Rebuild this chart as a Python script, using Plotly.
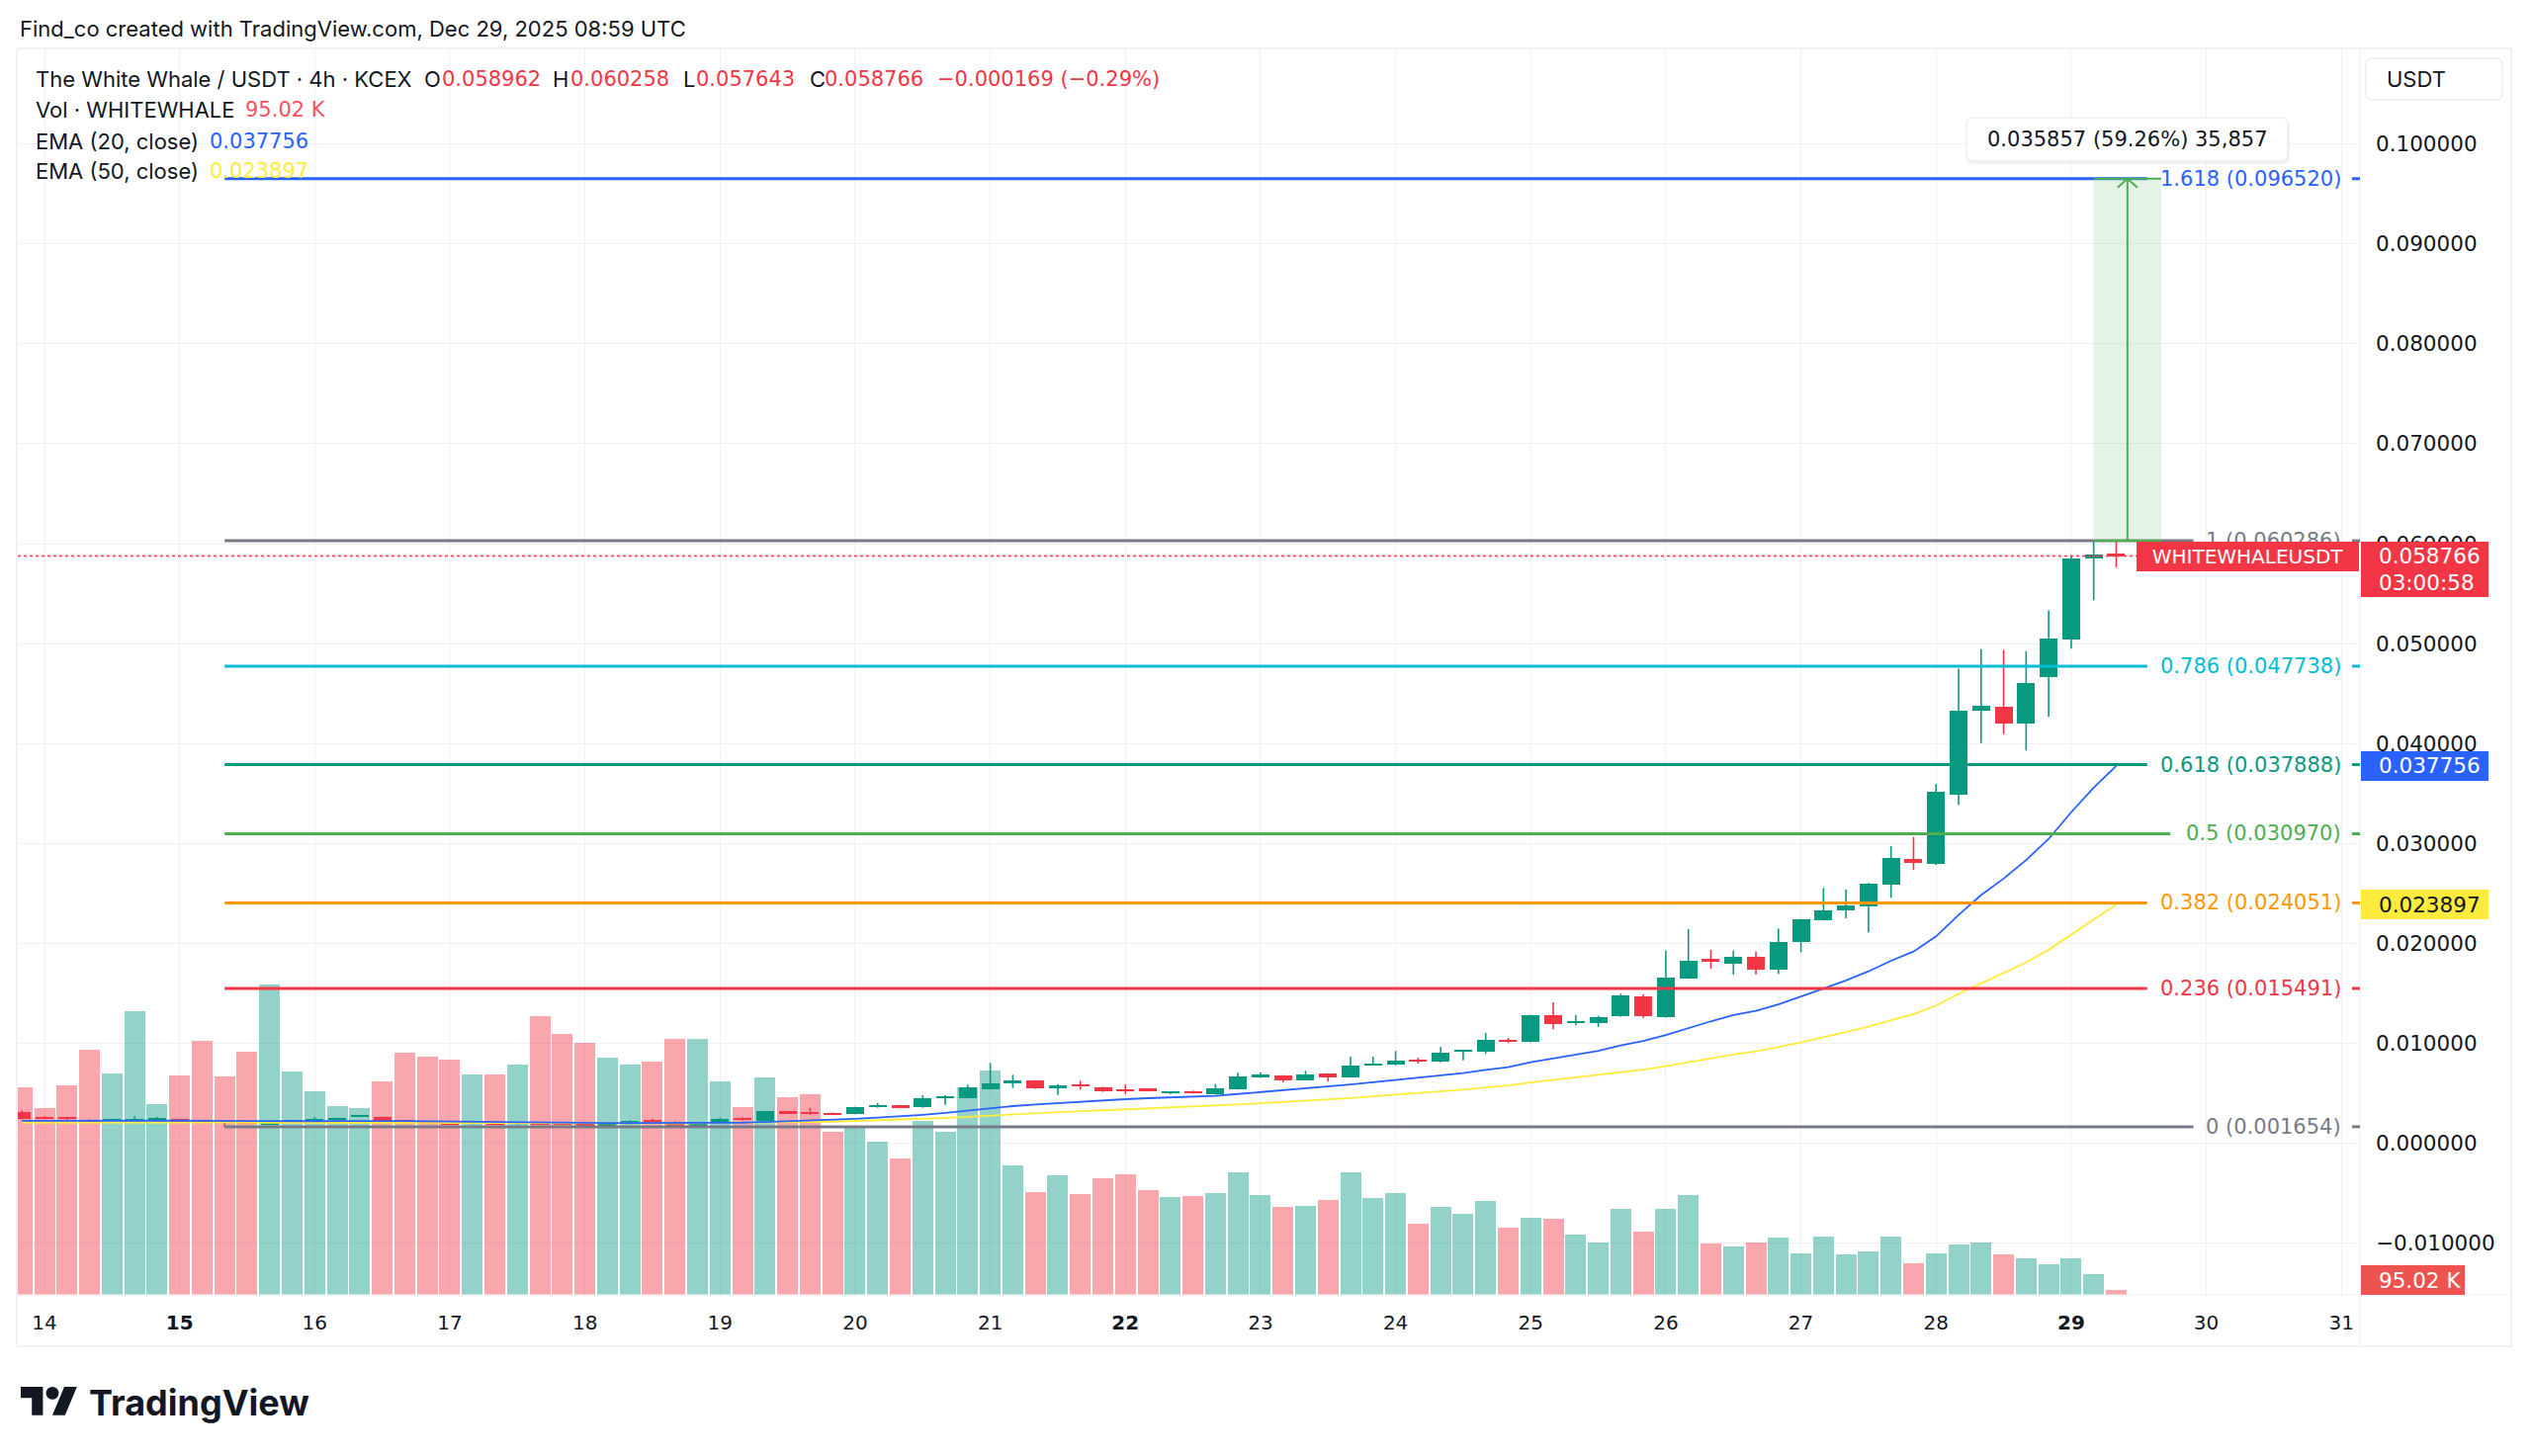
import plotly.graph_objects as go
import pandas as pd

# ------------------------------------------------------------------ DATA
bar_times = pd.date_range("2025-12-13 20:00", periods=94, freq="4h")

opens = [0.00310, 0.00262, 0.00262, 0.00238, 0.00224, 0.00226, 0.00236, 0.00243, 0.00230, 0.00220,
         0.00211, 0.00181, 0.00211, 0.00220, 0.00230, 0.00266, 0.00263, 0.00230, 0.00220, 0.00204,
         0.00191, 0.00207, 0.00191, 0.00204, 0.00197, 0.00191, 0.00181, 0.00191, 0.00233, 0.00217,
         0.00177, 0.00204, 0.00256, 0.00224, 0.00322, 0.00310, 0.00306, 0.00293, 0.00359, 0.00382,
         0.00359, 0.00458, 0.00454, 0.00540, 0.00596, 0.00629, 0.00550, 0.00590, 0.00563, 0.00543,
         0.00538, 0.00500, 0.00520, 0.00490, 0.00540, 0.00656, 0.00679, 0.00632, 0.00698, 0.00659,
         0.00784, 0.00784, 0.00833, 0.00813, 0.00923, 0.00913, 0.01038, 0.01012, 0.01279, 0.01203,
         0.01203, 0.01269, 0.01470, 0.01259, 0.01648, 0.01846, 0.01799, 0.01866, 0.01737, 0.02009,
         0.02234, 0.02333, 0.02373, 0.02588, 0.02848, 0.02795, 0.03485, 0.04325, 0.04364, 0.04200,
         0.04667, 0.05045, 0.05850, 0.058962]
highs = [0.00329, 0.00272, 0.00264, 0.00240, 0.00245, 0.00270, 0.00263, 0.00246, 0.00232, 0.00222,
         0.00213, 0.00224, 0.00233, 0.00263, 0.00256, 0.00274, 0.00266, 0.00233, 0.00223, 0.00206,
         0.00214, 0.00210, 0.00214, 0.00206, 0.00200, 0.00193, 0.00200, 0.00230, 0.00243, 0.00220,
         0.00214, 0.00256, 0.00258, 0.00325, 0.00325, 0.00355, 0.00308, 0.00365, 0.00402, 0.00385,
         0.00481, 0.00481, 0.00587, 0.00804, 0.00685, 0.00632, 0.00593, 0.00626, 0.00566, 0.00589,
         0.00550, 0.00523, 0.00527, 0.00593, 0.00705, 0.00708, 0.00682, 0.00725, 0.00701, 0.00866,
         0.00866, 0.00923, 0.00856, 0.00962, 0.00936, 0.01104, 0.01054, 0.01285, 0.01410, 0.01282,
         0.01276, 0.01497, 0.01490, 0.01928, 0.02142, 0.01935, 0.01928, 0.01918, 0.02148, 0.02245,
         0.02554, 0.02538, 0.02604, 0.02973, 0.03065, 0.03594, 0.04748, 0.04945, 0.04935, 0.04925,
         0.05331, 0.05883, 0.060286, 0.060258]
lows = [0.00243, 0.00245, 0.00231, 0.00215, 0.00215, 0.00220, 0.00233, 0.00215, 0.00214, 0.001654,
        0.00195, 0.00178, 0.00208, 0.00217, 0.00228, 0.00263, 0.00214, 0.00210, 0.00194, 0.00181,
        0.00188, 0.00184, 0.00188, 0.00184, 0.00180, 0.00170, 0.00178, 0.00188, 0.00210, 0.00174,
        0.00174, 0.00201, 0.00226, 0.00222, 0.00293, 0.00285, 0.00285, 0.00290, 0.00356, 0.00352,
        0.00356, 0.00385, 0.00450, 0.00537, 0.00553, 0.00544, 0.00484, 0.00537, 0.00514, 0.00490,
        0.00525, 0.00490, 0.00497, 0.00487, 0.00537, 0.00653, 0.00609, 0.00629, 0.00616, 0.00656,
        0.00781, 0.00781, 0.00797, 0.00810, 0.00830, 0.00896, 0.01002, 0.01009, 0.01140, 0.01180,
        0.01164, 0.01266, 0.01253, 0.01256, 0.01645, 0.01747, 0.01688, 0.01691, 0.01694, 0.01912,
        0.02230, 0.02251, 0.02110, 0.02456, 0.02736, 0.02785, 0.03385, 0.04004, 0.04094, 0.03930,
        0.04269, 0.04949, 0.05434, 0.057643]
closes = [0.00248, 0.00248, 0.00250, 0.00218, 0.00243, 0.00243, 0.00253, 0.00218, 0.00218, 0.00204,
          0.00197, 0.00222, 0.00230, 0.00240, 0.00253, 0.00270, 0.00217, 0.00214, 0.00197, 0.00184,
          0.00211, 0.00187, 0.00211, 0.00187, 0.00184, 0.00174, 0.00197, 0.00227, 0.00214, 0.00177,
          0.00211, 0.00246, 0.00236, 0.00322, 0.00296, 0.00290, 0.00290, 0.00362, 0.00385, 0.00355,
          0.00454, 0.00471, 0.00557, 0.00602, 0.00629, 0.00547, 0.00577, 0.00573, 0.00520, 0.00527,
          0.00530, 0.00520, 0.00500, 0.00547, 0.00666, 0.00685, 0.00632, 0.00692, 0.00659, 0.00774,
          0.00797, 0.00823, 0.00817, 0.00910, 0.00933, 0.01038, 0.01011, 0.01279, 0.01197, 0.01223,
          0.01259, 0.01483, 0.01269, 0.01655, 0.01829, 0.01813, 0.01866, 0.01740, 0.02017, 0.02240,
          0.02333, 0.02380, 0.02594, 0.02852, 0.02802, 0.03518, 0.04327, 0.04374, 0.04200, 0.04608,
          0.05046, 0.05856, 0.058935, 0.058766]
volumes_k = [3990, 3591, 4028, 4712, 4256, 5453, 3667, 4218, 4883, 4199,
             4674, 5966, 4294, 3914, 3629, 3591, 4104, 4655, 4579, 4522,
             4237, 4237, 4427, 5358, 5016, 4845, 4560, 4427, 4484, 4921,
             4921, 4104, 3610, 4180, 3800, 3857, 3135, 3211, 2945, 2622,
             3344, 3135, 3990, 4313, 2489, 1976, 2299, 1938, 2242, 2318,
             2014, 1881, 1900, 1957, 2356, 1919, 1691, 1710, 1824, 2356,
             1862, 1957, 1368, 1691, 1558, 1805, 1292, 1482, 1463, 1159,
             1007, 1653, 1216, 1653, 1919, 988, 931, 1007, 1102, 798,
             1121, 779, 836, 1121, 608, 798, 969, 1007, 779, 703,
             589, 703, 399, 95.02]
ema20 = [0.00225, 0.00226, 0.00226, 0.00225, 0.00225, 0.00226, 0.00227, 0.00226, 0.00225, 0.00223,
         0.00221, 0.00220, 0.00220, 0.00221, 0.00222, 0.00224, 0.00223, 0.00222, 0.00220, 0.00217,
         0.00215, 0.00213, 0.00212, 0.00210, 0.00208, 0.00205, 0.00203, 0.00203, 0.00203, 0.00202,
         0.00201, 0.00203, 0.00206, 0.00213, 0.00220, 0.00226, 0.00233, 0.00244, 0.00256, 0.00267,
         0.00285, 0.00303, 0.00326, 0.00350, 0.00372, 0.00388, 0.00403, 0.00418, 0.00430, 0.00441,
         0.00451, 0.00459, 0.00466, 0.00475, 0.00493, 0.00511, 0.00535, 0.00552, 0.00567, 0.00589,
         0.00610, 0.00632, 0.00651, 0.00677, 0.00701, 0.00734, 0.00762, 0.00812, 0.00850, 0.00888,
         0.00925, 0.00980, 0.01024, 0.01083, 0.01154, 0.01220, 0.01283, 0.01325, 0.01390, 0.01466,
         0.01548, 0.01630, 0.01720, 0.01826, 0.01918, 0.02070, 0.02285, 0.02484, 0.02648, 0.02834,
         0.03045, 0.03312, 0.03559, 0.037756]
ema50 = [0.00205, 0.00206, 0.00206, 0.00206, 0.00206, 0.00207, 0.00207, 0.00207, 0.00207, 0.00207,
         0.00206, 0.00206, 0.00206, 0.00206, 0.00207, 0.00207, 0.00207, 0.00207, 0.00206, 0.00205,
         0.00205, 0.00204, 0.00204, 0.00203, 0.00202, 0.00201, 0.00200, 0.00200, 0.00200, 0.00199,
         0.00200, 0.00201, 0.00202, 0.00205, 0.00209, 0.00212, 0.00216, 0.00222, 0.00229, 0.00235,
         0.00244, 0.00253, 0.00265, 0.00277, 0.00290, 0.00301, 0.00311, 0.00321, 0.00330, 0.00339,
         0.00348, 0.00357, 0.00365, 0.00374, 0.00387, 0.00400, 0.00412, 0.00425, 0.00437, 0.00453,
         0.00469, 0.00485, 0.00501, 0.00519, 0.00537, 0.00558, 0.00578, 0.00607, 0.00632, 0.00656,
         0.00680, 0.00710, 0.00737, 0.00771, 0.00810, 0.00849, 0.00887, 0.00919, 0.00960, 0.01008,
         0.01060, 0.01110, 0.01166, 0.01231, 0.01290, 0.01378, 0.01494, 0.01600, 0.01703, 0.01808,
         0.01936, 0.02090, 0.02239, 0.023897]

fib_ratios = ["0", "0.236", "0.382", "0.5", "0.618", "0.786", "1", "1.618"]
fib_prices = [0.001654, 0.015491, 0.024051, 0.030970, 0.037888, 0.047738, 0.060286, 0.096520]
fib_colors = ["#787b86", "#f23645", "#ff9800", "#4caf50", "#089981", "#00bcd4", "#787b86", "#2962ff"]
fib_start = pd.Timestamp("2025-12-15 08:00")

day_ticks = pd.date_range("2025-12-14", "2025-12-31", freq="D")
bold_days = [15, 22, 29]

measure_x0 = pd.Timestamp("2025-12-29 04:00")
measure_x1 = pd.Timestamp("2025-12-29 16:00")
measure_from, measure_to = 0.060286, 0.096520
measure_text = "0.035857 (59.26%) 35,857"

symbol = "WHITEWHALEUSDT"
countdown = "03:00:58"
title_text = "The White Whale / USDT · 4h · KCEX"
header_text = "Find_co created with TradingView.com, Dec 29, 2025 08:59 UTC"
vol_text = "95.02 K"

# ------------------------------------------------------------------ GEOMETRY / STYLE
W, H = 2560, 1473
PL, PR, PT, PB = 18, 2387, 50, 1310
PW, PH = PR - PL, PB - PT
ZERO_PX, PX_PER_PRICE = 1156.6, 10110.0
DAY0, DAY0_PX, PX_PER_DAY = pd.Timestamp("2025-12-14"), 45.0, 136.66
VOL_K_PER_PX = 19.0

UP, DOWN = "#089981", "#f23645"
BLUE, YELLOW, TXT = "#2962ff", "#ffeb3b", "#131722"
GRID, BORDER = "#f0f1f3", "#e0e3eb"
FONT = "Inter"
NUMFONT = "DejaVu Sans"
TS = 22    # text size
NS = 21    # number size (labels)
AS = 21.5  # price-scale number size


def px2time(px):
    return DAY0 + pd.Timedelta(days=(px - DAY0_PX) / PX_PER_DAY)


def px2price(py):
    return (ZERO_PX - py) / PX_PER_PRICE


def fx(px):
    return (px - PL) / PW


def fy(py):
    return (PB - py) / PH


def ms(px):
    return px / PX_PER_DAY * 86400000.0


fig = go.Figure()

# volume (primary y, hidden)
vol_colors = ["rgba(8,153,129,0.44)" if c >= o else "rgba(242,54,69,0.44)" for o, c in zip(opens, closes)]
fig.add_trace(go.Bar(x=bar_times, y=volumes_k, width=ms(21), marker=dict(color=vol_colors, line=dict(width=0)),
                     yaxis="y", hoverinfo="skip"))

# candles: wicks
for up, col in ((True, UP), (False, DOWN)):
    wx, wy = [], []
    for t, o, h, l, c in zip(bar_times, opens, highs, lows, closes):
        if (c >= o) == up:
            wx += [t, t, None]
            wy += [l, h, None]
    fig.add_trace(go.Scatter(x=wx, y=wy, mode="lines", line=dict(color=col, width=1.6), yaxis="y2",
                             hoverinfo="skip"))

# candles: bodies
min_body = 1.6 / PX_PER_PRICE
body_base = [min(o, c) for o, c in zip(opens, closes)]
body_h = [max(abs(c - o), min_body) for o, c in zip(opens, closes)]
body_col = [UP if c >= o else DOWN for o, c in zip(opens, closes)]
fig.add_trace(go.Bar(x=bar_times, y=body_h, base=body_base, width=ms(18),
                     marker=dict(color=body_col, line=dict(width=0)), yaxis="y2", hoverinfo="skip"))

# EMAs
fig.add_trace(go.Scatter(x=bar_times, y=ema50, mode="lines", line=dict(color=YELLOW, width=1.8), yaxis="y2",
                         hoverinfo="skip"))
fig.add_trace(go.Scatter(x=bar_times, y=ema20, mode="lines", line=dict(color=BLUE, width=1.8), yaxis="y2",
                         hoverinfo="skip"))

shapes = []
ann = []


def pline(x0, y0, x1, y1, color, width=1, dash=None):
    d = dict(type="line", xref="paper", yref="paper", x0=fx(x0), y0=fy(y0), x1=fx(x1), y1=fy(y1),
             line=dict(color=color, width=width), layer="above")
    if dash:
        d["line"]["dash"] = dash
    return d


def prect(x0, y0, x1, y1, fill, line=None):
    return dict(type="rect", xref="paper", yref="paper", x0=fx(x0), y0=fy(y0), x1=fx(x1), y1=fy(y1),
                fillcolor=fill, line=dict(color=line or fill, width=1 if line else 0), layer="above")


def rrect(x0, y0, x1, y1, r, fill, line):
    pts = [("M", x0 + r, y0), ("L", x1 - r, y0), ("Q", x1, y0, x1, y0 + r), ("L", x1, y1 - r),
           ("Q", x1, y1, x1 - r, y1), ("L", x0 + r, y1), ("Q", x0, y1, x0, y1 - r), ("L", x0, y0 + r),
           ("Q", x0, y0, x0 + r, y0)]
    s = ""
    for p in pts:
        if p[0] == "Q":
            s += "Q%.6f,%.6f %.6f,%.6f " % (fx(p[1]), fy(p[2]), fx(p[3]), fy(p[4]))
        else:
            s += "%s%.6f,%.6f " % (p[0], fx(p[1]), fy(p[2]))
    s += "Z"
    return dict(type="path", xref="paper", yref="paper", path=s, fillcolor=fill,
                line=dict(color=line, width=1 if line else 0), layer="above")


def txt(text, px, py, color, size=TS, anchor="left", family=FONT, **kw):
    d = dict(text=text, x=fx(px), y=fy(py), xref="paper", yref="paper", xanchor=anchor, yanchor="middle",
             showarrow=False, font=dict(family=family, size=size, color=color))
    d.update(kw)
    return d


# frame & separators
shapes.append(dict(type="rect", xref="paper", yref="paper", x0=fx(17), y0=fy(49), x1=fx(2540), y1=fy(1362),
                   line=dict(color=BORDER, width=1), fillcolor="rgba(0,0,0,0)", layer="above"))
shapes.append(pline(PR, 49, PR, 1362, "#eef0f3", 1))
shapes.append(pline(17, PB, 2540, PB, "#eef0f3", 1))

# fib levels
LABEL_RIGHT, CHAR_W, GAP = 2370, 11.7, 11
for r, p, c in zip(fib_ratios, fib_prices, fib_colors):
    label = "%s (%.6f)" % (r, p)
    end_px = LABEL_RIGHT - len(label) * CHAR_W - GAP
    shapes.append(dict(type="line", xref="x", yref="y2", x0=fib_start, x1=px2time(end_px), y0=p, y1=p,
                       line=dict(color=c, width=3), layer="above"))
    shapes.append(dict(type="line", xref="paper", yref="y2", x0=fx(2379), x1=fx(2387), y0=p, y1=p,
                       line=dict(color=c, width=3), layer="above"))
    ann.append(dict(text=label, x=fx(LABEL_RIGHT), y=p, xref="paper", yref="y2", xanchor="right",
                    yanchor="middle", showarrow=False, font=dict(family=NUMFONT, size=NS, color=c)))

# current price dotted line
shapes.append(dict(type="line", xref="paper", yref="y2", x0=0, x1=fx(2161), y0=closes[-1], y1=closes[-1],
                   line=dict(color=DOWN, width=1.5, dash="dot"), layer="above"))

# measurement tool
shapes.append(dict(type="rect", xref="x", yref="y2", x0=measure_x0, x1=measure_x1, y0=measure_from,
                   y1=measure_to, fillcolor="rgba(76,175,80,0.15)", line=dict(width=0), layer="above"))
for yv in (measure_from, measure_to):
    shapes.append(dict(type="line", xref="x", yref="y2", x0=measure_x0, x1=measure_x1, y0=yv, y1=yv,
                       line=dict(color="#4caf50", width=2), layer="above"))
mid = measure_x0 + (measure_x1 - measure_x0) / 2
shapes.append(dict(type="line", xref="x", yref="y2", x0=mid, x1=mid, y0=measure_from, y1=measure_to,
                   line=dict(color="#4caf50", width=2), layer="above"))
for s in (-1, 1):
    shapes.append(dict(type="line", xref="x", yref="y2", x0=mid, y0=measure_to,
                       x1=mid + pd.Timedelta(days=s * 10 / PX_PER_DAY), y1=measure_to - 9 / PX_PER_PRICE,
                       line=dict(color="#4caf50", width=2), layer="above"))
shapes.append(rrect(1989, 121, 2316, 166, 7, "rgba(0,0,0,0.05)", None))
shapes.append(rrect(1989, 119, 2314, 163, 7, "#ffffff", "#e6e8ee"))
ann.append(txt(measure_text, 2151.5, 141, TXT, NS, "center", NUMFONT))

# price scale boxes
shapes.append(prect(2388, 548, 2517, 604, DOWN))
shapes.append(prect(2388, 760, 2517, 790, BLUE))
shapes.append(prect(2388, 900, 2517, 930, YELLOW))
shapes.append(prect(2388, 1280, 2493, 1310, "#ef5350"))

# USDT button
shapes.append(rrect(2393, 59, 2531, 101, 7, "#ffffff", BORDER))

# TradingView logo
S, LX, LY = 1.6, 21.0, 1403.0


def lp(u, v):
    return fx(LX + u * S), fy(LY + (v - 4) * S)


def poly(points):
    s = ""
    for i, (u, v) in enumerate(points):
        X, Y = lp(u, v)
        s += ("M" if i == 0 else "L") + "%.6f,%.6f " % (X, Y)
    return s + "Z"


shapes.append(dict(type="path", xref="paper", yref="paper",
                   path=poly([(0, 4), (14, 4), (14, 22), (7, 22), (7, 11), (0, 11)]),
                   fillcolor="#131722", line=dict(width=0), layer="above"))
shapes.append(dict(type="path", xref="paper", yref="paper",
                   path=poly([(20, 22), (28, 22), (35.5, 4), (27.5, 4)]),
                   fillcolor="#131722", line=dict(width=0), layer="above"))
cx0, cy0 = lp(16, 4)
cx1, cy1 = lp(24, 12)
shapes.append(dict(type="circle", xref="paper", yref="paper", x0=cx0, y0=cy1, x1=cx1, y1=cy0,
                   fillcolor="#131722", line=dict(width=0), layer="above"))
ann.append(txt("<b>TradingView</b>", 88, 1419, "#131722", 36, "left", FONT))

# header & legend
ann.append(txt(header_text, 18, 29, TXT, TS))
ann.append(txt(title_text, 34, 80, TXT, TS))
chg = closes[-1] - closes[-2]
chg_pct = chg / closes[-2] * 100
legend_items = [("O", 427, TXT, FONT), ("%.6f" % opens[-1], 445, DOWN, NUMFONT),
                ("H", 557, TXT, FONT), ("%.6f" % highs[-1], 575, DOWN, NUMFONT),
                ("L", 689, TXT, FONT), ("%.6f" % lows[-1], 702, DOWN, NUMFONT),
                ("C", 817, TXT, FONT), ("%.6f" % closes[-1], 832, DOWN, NUMFONT),
                (("%.6f (%.2f%%)" % (chg, chg_pct)).replace("-", "\u2212"), 946, DOWN, NUMFONT)]
for t, x, c, f in legend_items:
    ann.append(txt(t, x, 80, c, TS if f == FONT else NS, "left", f))
ann.append(txt("Vol · WHITEWHALE", 34, 111, TXT, TS))
ann.append(txt(vol_text, 246, 111, "#f7525f", NS, "left", NUMFONT))
ann.append(txt("EMA (20, close)", 34, 143, TXT, TS))
ann.append(txt("%.6f" % ema20[-1], 210, 143, BLUE, NS, "left", NUMFONT))
ann.append(txt("EMA (50, close)", 34, 173, TXT, TS))
ann.append(txt("%.6f" % ema50[-1], 210, 173, YELLOW, NS, "left", NUMFONT))

# symbol label (covers the '1' fib label partly, as in the original)
ann.append(dict(text=symbol, x=fx(2273.5), y=fy(563), xref="paper", yref="paper", xanchor="center",
                yanchor="middle", showarrow=False, bgcolor=DOWN, width=225, height=30, borderpad=0,
                borderwidth=0, font=dict(family=NUMFONT, size=20, color="#ffffff")))
# price scale texts
ann.append(txt("%.6f" % closes[-1], 2404, 562, "#ffffff", AS, "left", NUMFONT))
ann.append(txt(countdown, 2404, 589, "#ffffff", AS, "left", NUMFONT))
ann.append(txt("%.6f" % ema20[-1], 2404, 775, "#ffffff", AS, "left", NUMFONT))
ann.append(txt("%.6f" % ema50[-1], 2404, 915, TXT, AS, "left", NUMFONT))
ann.append(txt(vol_text, 2404, 1295, "#ffffff", AS, "left", NUMFONT))
ann.append(txt("USDT", 2412, 80, TXT, TS))

ticktext = ["<b>%d</b>" % d.day if d.day in bold_days else str(d.day) for d in day_ticks]

fig.update_layout(
    width=W, height=H,
    margin=dict(l=PL, r=W - PR, t=PT, b=H - PB, autoexpand=False),
    paper_bgcolor="#ffffff", plot_bgcolor="#ffffff",
    showlegend=False, barmode="overlay", bargap=0,
    xaxis=dict(type="date", range=[px2time(PL), px2time(PR)], tickvals=list(day_ticks), ticktext=ticktext,
               showgrid=True, gridcolor=GRID, gridwidth=1, zeroline=False, showline=False, ticks="",
               ticklabelstandoff=14, tickfont=dict(family=NUMFONT, size=20, color=TXT), fixedrange=True),
    yaxis=dict(range=[0, PH * VOL_K_PER_PX], visible=False, showgrid=False, fixedrange=True),
    yaxis2=dict(overlaying="y", side="right", range=[px2price(PB), px2price(PT)], tick0=0, dtick=0.01,
                tickformat=".6f", showgrid=True, gridcolor=GRID, gridwidth=1, zeroline=False, showline=False,
                ticks="", ticklabelstandoff=15, tickfont=dict(family=NUMFONT, size=AS, color=TXT),
                fixedrange=True),
    shapes=shapes, annotations=ann,
)

fig.write_html("out.html", config={"displayModeBar": False},
               post_script="document.body.style.margin='0';")
